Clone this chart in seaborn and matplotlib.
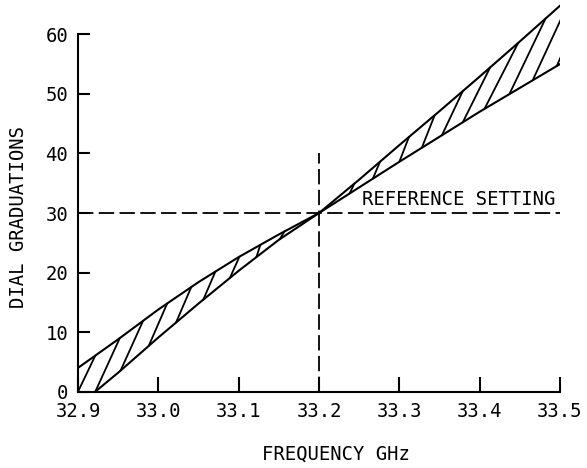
import numpy as np
import matplotlib
matplotlib.use("Agg")
import matplotlib.pyplot as plt
import seaborn as sns

sns.set_theme(style="ticks")
plt.rcParams["font.family"] = ["DejaVu Sans Mono", "DejaVu Sans"]
plt.rcParams["text.color"] = "black"

# upper and lower limit curves (frequency GHz -> dial graduations)
freq_upper = [32.88, 32.90, 32.95, 33.00, 33.05, 33.10, 33.15, 33.20,
              33.25, 33.30, 33.35, 33.40, 33.45, 33.50, 33.55]
dial_upper = [2.2, 4.0, 8.8, 13.8, 18.4, 22.6, 26.4, 30.0,
              35.6, 41.4, 47.1, 52.9, 58.8, 64.8, 70.7]
freq_lower = [32.88, 32.90, 32.95, 33.00, 33.05, 33.10, 33.15, 33.20,
              33.25, 33.30, 33.35, 33.40, 33.45, 33.50, 33.55]
dial_lower = [-4.6, -2.4, 3.2, 9.1, 14.8, 20.3, 25.5, 30.0,
              34.3, 38.6, 42.8, 47.0, 51.0, 55.0, 59.0]

# hatch strokes: where each one leaves the lower curve and meets the upper one
hatch_from = [32.886, 32.9215, 32.953, 32.988, 33.022, 33.056, 33.089, 33.122, 33.151,
              33.238, 33.267, 33.300, 33.328, 33.353, 33.379, 33.406, 33.437, 33.466, 33.496]
hatch_to = [32.9215, 32.952, 32.981, 33.011, 33.041, 33.071, 33.101, 33.127, 33.157,
            33.244, 33.276, 33.312, 33.344, 33.379, 33.413, 33.448, 33.482, 33.515, 33.547]

ref_freq = 33.2
ref_dial = 30
ref_top = 40

x_ticks = [32.9, 33.0, 33.1, 33.2, 33.3, 33.4, 33.5]
y_ticks = [0, 10, 20, 30, 40, 50, 60]

FS = 13.6

fig = plt.figure(figsize=(5.87, 4.68), dpi=100)
ax = fig.add_axes([0.1329, 0.163, 0.8211, 0.8337])

sns.lineplot(x=freq_upper, y=dial_upper, color="black", lw=1.5, ax=ax)
sns.lineplot(x=freq_lower, y=dial_lower, color="black", lw=1.5, ax=ax)

for f0, f1 in zip(hatch_from, hatch_to):
    y0 = np.interp(f0, freq_lower, dial_lower)
    y1 = np.interp(f1, freq_upper, dial_upper)
    ax.plot([f0, f1], [y0, y1], color="black", lw=1.3)

dash = (0, (8.5, 3))
ax.plot([x_ticks[0], x_ticks[-1]], [ref_dial, ref_dial], color="black", lw=1.3, ls=dash)
ax.plot([ref_freq, ref_freq], [0, ref_top], color="black", lw=1.3, ls=dash)

ax.text(33.254, 31.3, "REFERENCE SETTING", fontsize=FS, va="baseline", ha="left",
        color="black")

ax.set_xlim(32.9, 33.5)
ax.set_ylim(0, 65.5)
ax.set_xticks(x_ticks)
ax.set_xticklabels([f"{v:.1f}" for v in x_ticks])
ax.set_yticks(y_ticks)
ax.spines["left"].set_bounds(0, 60)
ax.spines["top"].set_visible(False)
ax.spines["right"].set_visible(False)
for s in ("left", "bottom"):
    ax.spines[s].set_linewidth(1.5)
    ax.spines[s].set_color("black")

ax.tick_params(axis="x", direction="in", length=10.5, width=1.5, pad=7.5,
               labelsize=FS, colors="black")
ax.tick_params(axis="y", direction="in", length=8.5, width=1.5, pad=7,
               labelsize=FS, colors="black")

ax.set_xlabel("FREQUENCY GHz", fontsize=FS, color="black")
ax.set_ylabel("DIAL GRADUATIONS", fontsize=FS, color="black")
ax.xaxis.set_label_coords(0.535, -0.1366)
ax.yaxis.set_label_coords(-0.1037, 0.448)

plt.savefig("out.png", dpi=100)
plt.close()
